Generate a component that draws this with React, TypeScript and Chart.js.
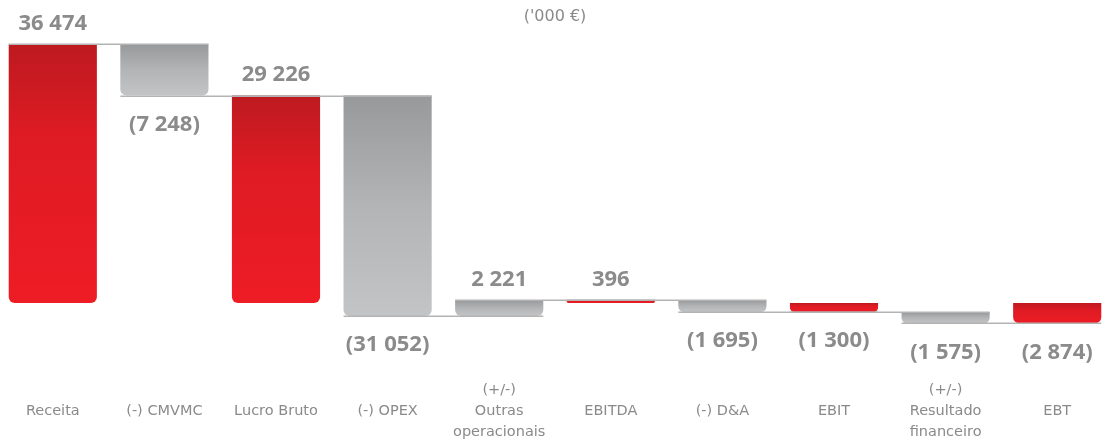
import React, { useEffect, useRef } from "react";
import { Chart, registerables } from "chart.js";

Chart.register(...registerables);

const categories: string[][] = [
  ["Receita"],
  ["(-) CMVMC"],
  ["Lucro Bruto"],
  ["(-) OPEX"],
  ["(+/-)", "Outras", "operacionais"],
  ["EBITDA"],
  ["(-) D&A"],
  ["EBIT"],
  ["(+/-)", "Resultado", "financeiro"],
  ["EBT"],
];
const values: number[] = [36474, -7248, 29226, -31052, 2221, 396, -1695, -1300, -1575, -2874];
const isTotal: boolean[] = [true, false, true, false, false, true, false, true, false, true];
const subtitle = "('000 €)";

function fmt(v: number): string {
  const s = Math.abs(v).toString().replace(/\B(?=(\d{3})+(?!\d))/g, " ");
  return v < 0 ? `(${s})` : s;
}

export default function App() {
  const ref = useRef<HTMLCanvasElement | null>(null);

  useEffect(() => {
    document.body.style.margin = "0";
    document.body.style.overflow = "hidden";
    const canvas = ref.current;
    if (!canvas) return;

    // waterfall ranges
    const ranges: [number, number][] = [];
    const levels: number[] = [];
    let running = 0;
    values.forEach((v, i) => {
      if (isTotal[i]) {
        ranges.push([0, v]);
        running = v;
      } else {
        ranges.push([running, running + v]);
        running += v;
      }
      levels.push(running);
    });

    const barGradient = (context: any) => {
      const chart = context.chart;
      const i = context.dataIndex;
      const y = chart.scales?.y;
      const total = isTotal[i];
      const fallback = total ? "#e41c24" : "#b0b1b3";
      if (!y || i === undefined) return fallback;
      const r = ranges[i];
      const top = y.getPixelForValue(Math.max(r[0], r[1]));
      const bottom = y.getPixelForValue(Math.min(r[0], r[1]));
      if (!isFinite(top) || !isFinite(bottom)) return fallback;
      const g = chart.ctx.createLinearGradient(0, top, 0, Math.max(bottom, top + 1));
      if (total) {
        g.addColorStop(0, "#bd1a20");
        g.addColorStop(0.35, "#de1b23");
        g.addColorStop(1, "#ee1c25");
      } else {
        g.addColorStop(0, "#98999b");
        g.addColorStop(0.5, "#b3b4b6");
        g.addColorStop(1, "#c3c4c6");
      }
      return g;
    };

    const waterfallPlugin = {
      id: "waterfallExtras",
      afterDatasetsDraw(chart: any) {
        const { ctx } = chart;
        const meta = chart.getDatasetMeta(0);
        const y = chart.scales.y;
        ctx.save();
        // connectors
        ctx.strokeStyle = "#b3b3b3";
        ctx.lineWidth = 1.5;
        for (let i = 0; i < values.length - 1; i++) {
          const a = meta.data[i];
          const b = meta.data[i + 1];
          const yy = Math.round(y.getPixelForValue(levels[i])) + 0.25;
          ctx.beginPath();
          ctx.moveTo(a.x - a.width / 2, yy);
          ctx.lineTo(b.x + b.width / 2, yy);
          ctx.stroke();
        }
        // value labels
        ctx.fillStyle = "#8b8b8b";
        ctx.font = 'bold 22px "Open Sans"';
        ctx.textAlign = "center";
        ctx.textBaseline = "middle";
        values.forEach((v, i) => {
          const el = meta.data[i];
          const r = ranges[i];
          const top = y.getPixelForValue(Math.max(r[0], r[1]));
          const bottom = y.getPixelForValue(Math.min(r[0], r[1]));
          const ty = v >= 0 ? top - 20.5 : bottom + 29;
          ctx.fillText(fmt(v), el.x, ty);
        });
        // subtitle
        ctx.fillStyle = "#8a8a8a";
        ctx.font = '16px "DejaVu Sans"';
        ctx.fillText(subtitle, 558, 17);
        ctx.restore();
      },
    };

    const chart = new Chart(canvas, {
      type: "bar",
      data: {
        labels: categories,
        datasets: [
          {
            data: ranges as any,
            backgroundColor: barGradient,
            borderWidth: 0,
            borderSkipped: false,
            borderRadius: { topLeft: 0, topRight: 0, bottomLeft: 6, bottomRight: 6 },
            categoryPercentage: 1,
            barPercentage: 0.79,
          },
        ],
      },
      options: {
        responsive: false,
        animation: false,
        layout: { padding: { top: 40.4, bottom: 0.6, left: 0, right: 0 } },
        plugins: {
          legend: { display: false },
          tooltip: { enabled: false },
          title: { display: false },
        },
        scales: {
          x: {
            offset: true,
            grid: { display: false },
            border: { display: false },
            ticks: {
              color: "#8a8a8a",
              font: { family: "DejaVu Sans", size: 14.5, lineHeight: 1.45 },
              padding: 22.8,
              crossAlign: "center",
              maxRotation: 0,
              autoSkip: false,
            },
          },
          y: {
            display: false,
            min: -8000,
            max: 37000,
          },
        },
      },
      plugins: [waterfallPlugin],
    });

    return () => chart.destroy();
  }, []);

  return (
    <div style={{ position: "absolute", left: -3, top: 0, width: 1116, height: 477 }}>
      <canvas ref={ref} width={1116} height={477} />
    </div>
  );
}
